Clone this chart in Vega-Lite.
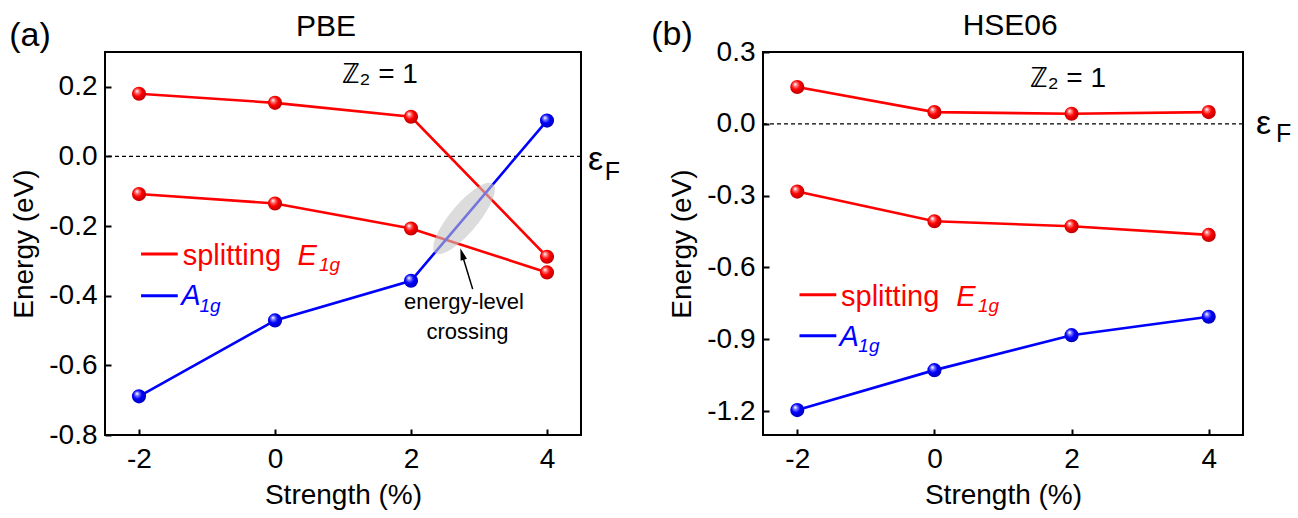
{
  "$schema": "https://vega.github.io/schema/vega-lite/v6.json",
  "padding": {"left": 8, "top": 10, "right": 5, "bottom": 0},
  "background": "white",
  "bounds": "flush",
  "spacing": 182,
  "config": {
    "font": "Liberation Sans",
    "view": {"stroke": "black", "strokeWidth": 2},
    "axis": {"domain": false, "grid": false, "labelFontSize": 28, "titleFontSize": 28, "labelColor": "black", "titleColor": "black", "tickColor": "black", "tickWidth": 2, "titleFontWeight": "normal", "labelFont": "Liberation Sans", "titleFont": "Liberation Sans"},
    "text": {"font": "Liberation Sans"}
  },
  "datasets": {
    "pbe": [
      {"series": "E1g-upper", "band": "E1g", "strain": -2, "energy": 0.18},
      {"series": "E1g-upper", "band": "E1g", "strain": 0, "energy": 0.154},
      {"series": "E1g-upper", "band": "E1g", "strain": 2, "energy": 0.114},
      {"series": "E1g-upper", "band": "E1g", "strain": 4, "energy": -0.288},
      {"series": "E1g-lower", "band": "E1g", "strain": -2, "energy": -0.108},
      {"series": "E1g-lower", "band": "E1g", "strain": 0, "energy": -0.135},
      {"series": "E1g-lower", "band": "E1g", "strain": 2, "energy": -0.207},
      {"series": "E1g-lower", "band": "E1g", "strain": 4, "energy": -0.333},
      {"series": "A1g", "band": "A1g", "strain": -2, "energy": -0.689},
      {"series": "A1g", "band": "A1g", "strain": 0, "energy": -0.471},
      {"series": "A1g", "band": "A1g", "strain": 2, "energy": -0.357},
      {"series": "A1g", "band": "A1g", "strain": 4, "energy": 0.103}
    ],
    "hse": [
      {"series": "E1g-upper", "band": "E1g", "strain": -2, "energy": 0.154},
      {"series": "E1g-upper", "band": "E1g", "strain": 0, "energy": 0.049},
      {"series": "E1g-upper", "band": "E1g", "strain": 2, "energy": 0.042},
      {"series": "E1g-upper", "band": "E1g", "strain": 4, "energy": 0.049},
      {"series": "E1g-lower", "band": "E1g", "strain": -2, "energy": -0.283},
      {"series": "E1g-lower", "band": "E1g", "strain": 0, "energy": -0.407},
      {"series": "E1g-lower", "band": "E1g", "strain": 2, "energy": -0.428},
      {"series": "E1g-lower", "band": "E1g", "strain": 4, "energy": -0.464},
      {"series": "A1g", "band": "A1g", "strain": -2, "energy": -1.196},
      {"series": "A1g", "band": "A1g", "strain": 0, "energy": -1.029},
      {"series": "A1g", "band": "A1g", "strain": 2, "energy": -0.883},
      {"series": "A1g", "band": "A1g", "strain": 4, "energy": -0.806}
    ]
  },
  "hconcat": [
    {
      "width": 476,
      "height": 383,
      "layer": [
        {
          "data": {"values": [{}]},
          "mark": {"type": "rule", "strokeDash": [4, 3], "strokeWidth": 1.2, "color": "black"},
          "encoding": {"y": {"datum": 0, "type": "quantitative"}}
        },
        {
          "data": {"name": "pbe"},
          "mark": {"type": "line", "strokeWidth": 2.6},
          "encoding": {
            "x": {"field": "strain", "type": "quantitative", "scale": {"domain": [-2.5, 4.5], "nice": false, "zero": false},
              "axis": {"title": "Strength (%)", "values": [-2, 0, 2, 4], "tickSize": -6, "labelPadding": 16, "titlePadding": 8, "labelExpr": "replace(format(datum.value, 'd'), '\u2212', '-')"}},
            "y": {"field": "energy", "type": "quantitative", "scale": {"domain": [-0.8, 0.3], "nice": false, "zero": false},
              "axis": {"title": "Energy (eV)", "values": [-0.8, -0.7, -0.6, -0.5, -0.4, -0.3, -0.2, -0.1, 0, 0.1, 0.2], "tickSize": {"condition": {"test": "abs(round(datum.value*10)) % 2 == 0", "value": -6}, "value": -3}, "labelPadding": 14, "titlePadding": 10,
                "labelExpr": "abs(round(datum.value*10)) % 2 == 0 ? replace(format(datum.value, '.1f'), '\u2212', '-') : ''"}},
            "color": {"field": "band", "type": "nominal", "scale": {"domain": ["E1g", "A1g"], "range": ["#ff0000", "#0000ff"]}, "legend": null},
            "detail": {"field": "series"}
          }
        },
        {
          "data": {"name": "pbe"},
          "transform": [{"filter": "datum.band == 'E1g'"}],
          "mark": {"type": "point", "filled": true, "size": 200, "opacity": 1, "strokeWidth": 0,
            "fill": {"gradient": "radial", "x1": 0.35, "y1": 0.3, "r1": 0.02, "x2": 0.45, "y2": 0.45, "r2": 0.6,
              "stops": [{"offset": 0, "color": "#ffffff"}, {"offset": 0.2, "color": "#ff7a7a"}, {"offset": 0.5, "color": "#ff0000"}, {"offset": 1, "color": "#b00000"}]}},
          "encoding": {"x": {"field": "strain", "type": "quantitative"}, "y": {"field": "energy", "type": "quantitative"}}
        },
        {
          "data": {"name": "pbe"},
          "transform": [{"filter": "datum.band == 'A1g'"}],
          "mark": {"type": "point", "filled": true, "size": 200, "opacity": 1, "strokeWidth": 0,
            "fill": {"gradient": "radial", "x1": 0.35, "y1": 0.3, "r1": 0.02, "x2": 0.45, "y2": 0.45, "r2": 0.6,
              "stops": [{"offset": 0, "color": "#ffffff"}, {"offset": 0.2, "color": "#7a7aff"}, {"offset": 0.5, "color": "#0000ff"}, {"offset": 1, "color": "#0000b0"}]}},
          "encoding": {"x": {"field": "strain", "type": "quantitative"}, "y": {"field": "energy", "type": "quantitative"}}
        },
        {
          "data": {"values": [{}]},
          "mark": {"type": "point", "filled": true, "shape": "M -1 0 A 1 0.311 0 1 0 1 0 A 1 0.311 0 1 0 -1 0 Z", "size": 8100, "angle": 310, "fill": "#c4c4c4", "opacity": 0.6, "strokeWidth": 0},
          "encoding": {"x": {"datum": 2.78, "type": "quantitative"}, "y": {"datum": -0.178, "type": "quantitative"}}
        },
        {
          "data": {"values": [{}]},
          "mark": {"type": "rule", "strokeWidth": 1.5, "color": "black"},
          "encoding": {"x": {"datum": 2.907, "type": "quantitative"}, "y": {"datum": -0.381, "type": "quantitative"}, "x2": {"datum": 2.75}, "y2": {"datum": -0.28}}
        },
        {
          "data": {"values": [{}]},
          "mark": {"type": "point", "filled": true, "shape": "M 0 -1 L 0.55 1 L -0.55 1 Z", "size": 144, "angle": 343, "fill": "black", "opacity": 1, "strokeWidth": 0},
          "encoding": {"x": {"datum": 2.751, "type": "quantitative"}, "y": {"datum": -0.28, "type": "quantitative"}}
        },
        {
          "data": {"values": [{}]},
          "mark": {"type": "text", "text": "energy-level", "fontSize": 22, "align": "center", "baseline": "alphabetic", "color": "black"},
          "encoding": {"x": {"datum": 2.78, "type": "quantitative"}, "y": {"datum": -0.438, "type": "quantitative"}}
        },
        {
          "data": {"values": [{}]},
          "mark": {"type": "text", "text": "crossing", "fontSize": 22, "align": "center", "baseline": "alphabetic", "color": "black"},
          "encoding": {"x": {"datum": 2.83, "type": "quantitative"}, "y": {"datum": -0.524, "type": "quantitative"}}
        },
        {
          "data": {"values": [{}]},
          "mark": {"type": "text", "text": "ℤ₂ = 1", "fontSize": 28, "align": "center", "baseline": "alphabetic", "color": "black"},
          "encoding": {"x": {"datum": 1.54, "type": "quantitative"}, "y": {"datum": 0.212, "type": "quantitative"}}
        },
        {
          "data": {"values": [{}]},
          "mark": {"type": "text", "text": "ε", "fontSize": 34, "align": "left", "baseline": "alphabetic", "color": "black"},
          "encoding": {"x": {"datum": 4.603, "type": "quantitative"}, "y": {"datum": -0.04, "type": "quantitative"}}
        },
        {
          "data": {"values": [{}]},
          "mark": {"type": "text", "text": "F", "fontSize": 25, "align": "left", "baseline": "alphabetic", "color": "black"},
          "encoding": {"x": {"datum": 4.85, "type": "quantitative"}, "y": {"datum": -0.069, "type": "quantitative"}}
        },
        {
          "data": {"values": [{}]},
          "mark": {"type": "text", "text": "(a)", "fontSize": 34, "align": "center", "baseline": "alphabetic", "color": "black"},
          "encoding": {"x": {"datum": -3.603, "type": "quantitative"}, "y": {"datum": 0.316, "type": "quantitative"}}
        },
        {
          "data": {"values": [{}]},
          "mark": {"type": "text", "text": "PBE", "fontSize": 30, "align": "center", "baseline": "alphabetic", "color": "black"},
          "encoding": {"x": {"datum": 0.75, "type": "quantitative"}, "y": {"datum": 0.347, "type": "quantitative"}}
        },
        {
          "data": {"values": [{}]},
          "mark": {"type": "rule", "strokeWidth": 3, "color": "#ff0000"},
          "encoding": {"x": {"datum": -1.97, "type": "quantitative"}, "x2": {"datum": -1.43}, "y": {"datum": -0.28, "type": "quantitative"}}
        },
        {
          "data": {"values": [{}]},
          "mark": {"type": "rule", "strokeWidth": 3, "color": "#0000ff"},
          "encoding": {"x": {"datum": -1.97, "type": "quantitative"}, "x2": {"datum": -1.43}, "y": {"datum": -0.4, "type": "quantitative"}}
        },
        {
          "data": {"values": [{}]},
          "mark": {"type": "text", "text": "splitting", "fontSize": 29, "align": "left", "baseline": "alphabetic", "color": "#ff0000"},
          "encoding": {"x": {"datum": -1.357, "type": "quantitative"}, "y": {"datum": -0.313, "type": "quantitative"}}
        },
        {
          "data": {"values": [{}]},
          "mark": {"type": "text", "text": "E", "fontSize": 29, "fontStyle": "italic", "align": "left", "baseline": "alphabetic", "color": "#ff0000"},
          "encoding": {"x": {"datum": 0.33, "type": "quantitative"}, "y": {"datum": -0.313, "type": "quantitative"}}
        },
        {
          "data": {"values": [{}]},
          "mark": {"type": "text", "text": "1g", "fontSize": 19, "fontStyle": "italic", "align": "left", "baseline": "alphabetic", "color": "#ff0000"},
          "encoding": {"x": {"datum": 0.647, "type": "quantitative"}, "y": {"datum": -0.33, "type": "quantitative"}}
        },
        {
          "data": {"values": [{}]},
          "mark": {"type": "text", "text": "A", "fontSize": 29, "fontStyle": "italic", "align": "left", "baseline": "alphabetic", "color": "#0000ff"},
          "encoding": {"x": {"datum": -1.38, "type": "quantitative"}, "y": {"datum": -0.428, "type": "quantitative"}}
        },
        {
          "data": {"values": [{}]},
          "mark": {"type": "text", "text": "1g", "fontSize": 19, "fontStyle": "italic", "align": "left", "baseline": "alphabetic", "color": "#0000ff"},
          "encoding": {"x": {"datum": -1.11, "type": "quantitative"}, "y": {"datum": -0.448, "type": "quantitative"}}
        }
      ]
    },
    {
      "width": 480,
      "height": 383,
      "layer": [
        {
          "data": {"values": [{}]},
          "mark": {"type": "rule", "strokeDash": [4, 3], "strokeWidth": 1.2, "color": "black"},
          "encoding": {"y": {"datum": 0, "type": "quantitative"}}
        },
        {
          "data": {"name": "hse"},
          "mark": {"type": "line", "strokeWidth": 2.6},
          "encoding": {
            "x": {"field": "strain", "type": "quantitative", "scale": {"domain": [-2.5, 4.5], "nice": false, "zero": false},
              "axis": {"title": "Strength (%)", "values": [-2, 0, 2, 4], "tickSize": -6, "labelPadding": 16, "titlePadding": 8, "labelExpr": "replace(format(datum.value, 'd'), '\u2212', '-')"}},
            "y": {"field": "energy", "type": "quantitative", "scale": {"domain": [-1.3, 0.3], "nice": false, "zero": false},
              "axis": {"title": "Energy (eV)", "values": [-1.2, -1.05, -0.9, -0.75, -0.6, -0.45, -0.3, -0.15, 0, 0.15, 0.3], "tickSize": {"condition": {"test": "abs(round(datum.value/0.15)) % 2 == 0", "value": -6}, "value": -3}, "labelPadding": 14, "titlePadding": 10,
                "labelExpr": "abs(round(datum.value/0.15)) % 2 == 0 ? replace(format(datum.value, '.1f'), '\u2212', '-') : ''"}},
            "color": {"field": "band", "type": "nominal", "scale": {"domain": ["E1g", "A1g"], "range": ["#ff0000", "#0000ff"]}, "legend": null},
            "detail": {"field": "series"}
          }
        },
        {
          "data": {"name": "hse"},
          "transform": [{"filter": "datum.band == 'E1g'"}],
          "mark": {"type": "point", "filled": true, "size": 200, "opacity": 1, "strokeWidth": 0,
            "fill": {"gradient": "radial", "x1": 0.35, "y1": 0.3, "r1": 0.02, "x2": 0.45, "y2": 0.45, "r2": 0.6,
              "stops": [{"offset": 0, "color": "#ffffff"}, {"offset": 0.2, "color": "#ff7a7a"}, {"offset": 0.5, "color": "#ff0000"}, {"offset": 1, "color": "#b00000"}]}},
          "encoding": {"x": {"field": "strain", "type": "quantitative"}, "y": {"field": "energy", "type": "quantitative"}}
        },
        {
          "data": {"name": "hse"},
          "transform": [{"filter": "datum.band == 'A1g'"}],
          "mark": {"type": "point", "filled": true, "size": 200, "opacity": 1, "strokeWidth": 0,
            "fill": {"gradient": "radial", "x1": 0.35, "y1": 0.3, "r1": 0.02, "x2": 0.45, "y2": 0.45, "r2": 0.6,
              "stops": [{"offset": 0, "color": "#ffffff"}, {"offset": 0.2, "color": "#7a7aff"}, {"offset": 0.5, "color": "#0000ff"}, {"offset": 1, "color": "#0000b0"}]}},
          "encoding": {"x": {"field": "strain", "type": "quantitative"}, "y": {"field": "energy", "type": "quantitative"}}
        },
        {
          "data": {"values": [{}]},
          "mark": {"type": "text", "text": "ℤ₂ = 1", "fontSize": 28, "align": "center", "baseline": "alphabetic", "color": "black"},
          "encoding": {"x": {"datum": 1.946, "type": "quantitative"}, "y": {"datum": 0.154, "type": "quantitative"}}
        },
        {
          "data": {"values": [{}]},
          "mark": {"type": "text", "text": "ε", "fontSize": 34, "align": "left", "baseline": "alphabetic", "color": "black"},
          "encoding": {"x": {"datum": 4.69, "type": "quantitative"}, "y": {"datum": -0.043, "type": "quantitative"}}
        },
        {
          "data": {"values": [{}]},
          "mark": {"type": "text", "text": "F", "fontSize": 25, "align": "left", "baseline": "alphabetic", "color": "black"},
          "encoding": {"x": {"datum": 4.98, "type": "quantitative"}, "y": {"datum": -0.077, "type": "quantitative"}}
        },
        {
          "data": {"values": [{}]},
          "mark": {"type": "text", "text": "(b)", "fontSize": 34, "align": "center", "baseline": "alphabetic", "color": "black"},
          "encoding": {"x": {"datum": -3.826, "type": "quantitative"}, "y": {"datum": 0.329, "type": "quantitative"}}
        },
        {
          "data": {"values": [{}]},
          "mark": {"type": "text", "text": "HSE06", "fontSize": 30, "align": "center", "baseline": "alphabetic", "color": "black"},
          "encoding": {"x": {"datum": 1.105, "type": "quantitative"}, "y": {"datum": 0.371, "type": "quantitative"}}
        },
        {
          "data": {"values": [{}]},
          "mark": {"type": "rule", "strokeWidth": 3, "color": "#ff0000"},
          "encoding": {"x": {"datum": -1.968, "type": "quantitative"}, "x2": {"datum": -1.431}, "y": {"datum": -0.714, "type": "quantitative"}}
        },
        {
          "data": {"values": [{}]},
          "mark": {"type": "rule", "strokeWidth": 3, "color": "#0000ff"},
          "encoding": {"x": {"datum": -1.968, "type": "quantitative"}, "x2": {"datum": -1.431}, "y": {"datum": -0.885, "type": "quantitative"}}
        },
        {
          "data": {"values": [{}]},
          "mark": {"type": "text", "text": "splitting", "fontSize": 29, "align": "left", "baseline": "alphabetic", "color": "#ff0000"},
          "encoding": {"x": {"datum": -1.362, "type": "quantitative"}, "y": {"datum": -0.761, "type": "quantitative"}}
        },
        {
          "data": {"values": [{}]},
          "mark": {"type": "text", "text": "E", "fontSize": 29, "fontStyle": "italic", "align": "left", "baseline": "alphabetic", "color": "#ff0000"},
          "encoding": {"x": {"datum": 0.32, "type": "quantitative"}, "y": {"datum": -0.761, "type": "quantitative"}}
        },
        {
          "data": {"values": [{}]},
          "mark": {"type": "text", "text": "1g", "fontSize": 19, "fontStyle": "italic", "align": "left", "baseline": "alphabetic", "color": "#ff0000"},
          "encoding": {"x": {"datum": 0.636, "type": "quantitative"}, "y": {"datum": -0.786, "type": "quantitative"}}
        },
        {
          "data": {"values": [{}]},
          "mark": {"type": "text", "text": "A", "fontSize": 29, "fontStyle": "italic", "align": "left", "baseline": "alphabetic", "color": "#0000ff"},
          "encoding": {"x": {"datum": -1.385, "type": "quantitative"}, "y": {"datum": -0.927, "type": "quantitative"}}
        },
        {
          "data": {"values": [{}]},
          "mark": {"type": "text", "text": "1g", "fontSize": 19, "fontStyle": "italic", "align": "left", "baseline": "alphabetic", "color": "#0000ff"},
          "encoding": {"x": {"datum": -1.11, "type": "quantitative"}, "y": {"datum": -0.955, "type": "quantitative"}}
        }
      ]
    }
  ]
}
